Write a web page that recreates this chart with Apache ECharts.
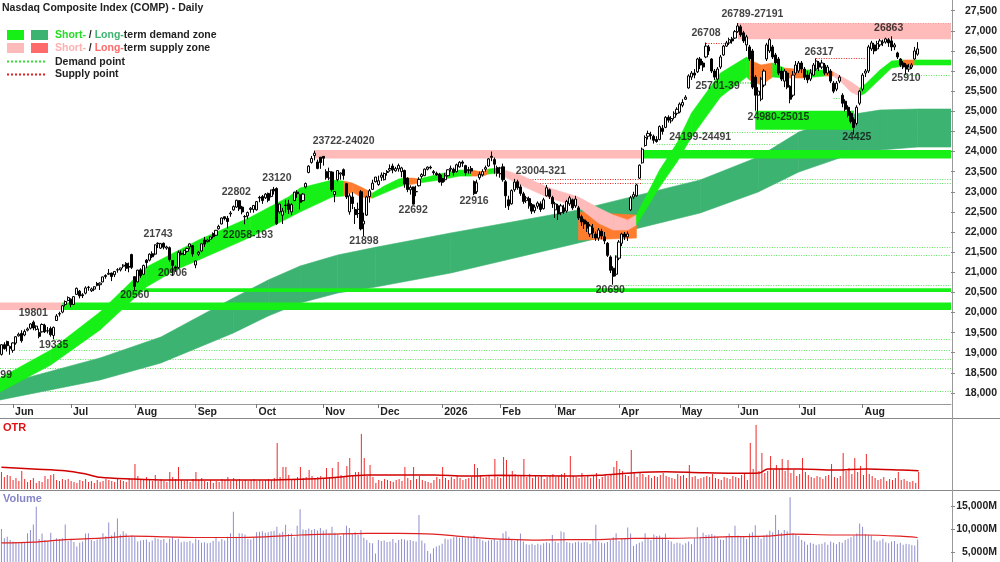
<!DOCTYPE html>
<html><head><meta charset="utf-8">
<script src="https://cdn.jsdelivr.net/npm/echarts@6/dist/echarts.min.js"></script>
<style>html,body{margin:0;padding:0;background:#fff}#c{width:1000px;height:562px}</style>
</head><body><div id="c"></div>
<script>
// ---------- DATA ----------
const candles = [ // [open, close, low, high]
[18960,19199,18930,19210],[19200,19100,19080,19260],[19280,19175,19030,19300],[19150,19113,18950,19180],
[19060,19243,19000,19260],[19240,19398,19200,19410],[19420,19460,19400,19500],[19480,19298,19250,19560],[19440,19530,19410,19580],
[19560,19591,19530,19630],[19610,19715,19580,19730],[19760,19615,19560,19800],[19580,19662,19550,19680],[19500,19407,19360,19600],
[19520,19701,19500,19730],[19680,19521,19490,19720],[19540,19546,19480,19640],[19600,19447,19400,19650],[19430,19631,19335,19650],
[19800,19913,19790,19960],[19960,19973,19900,20020],[20010,20168,19980,20180],[20200,20273,20150,20300],[20300,20370,20280,20400],
[20330,20202,20130,20350],[20200,20394,20190,20400],[20450,20601,20440,20620],[20530,20412,20350,20560],[20440,20418,20360,20480],
[20480,20611,20450,20650],[20620,20630,20540,20660],[20540,20586,20510,20620],[20580,20640,20530,20650],[20720,20677,20650,20760],
[20690,20730,20560,20750],[20760,20885,20750,20890],[20920,20896,20840,20950],[20950,20974,20930,21080],[20980,20893,20780,20990],
[20940,21020,20880,21030],[21060,21057,20990,21100],[21060,21108,21020,21110],[21150,21178,21100,21200],[21220,21098,21030,21250],
[21140,21130,21000,21240],[21440,21122,21080,21460],
[20890,20650,20560,20900],[20760,21053,20740,21060],[21060,20916,20860,21100],[20950,21169,20930,21190],[21300,21242,21100,21330],
[21300,21450,21270,21470],[21460,21385,21350,21520],[21450,21682,21420,21690],[21720,21713,21600,21743],[21600,21710,21580,21730],
[21720,21623,21570,21740],[21600,21630,21560,21660],[21610,21315,21260,21640],[21290,21172,20906,21300],[21130,21100,21010,21170],
[21120,21497,21090,21540],[21470,21449,21420,21540],[21440,21544,21420,21560],[21520,21590,21490,21610],[21630,21705,21570,21720],
[21660,21456,21390,21670],
[21180,21280,21100,21300],[21450,21498,21410,21530],[21530,21707,21500,21710],[21800,21700,21630,21880],[21760,21799,21740,21830],
[21820,21879,21760,21890],[21960,21886,21840,21990],[21920,22043,21900,22050],[22080,22141,22060,22180],[22200,22349,22190,22360],
[22380,22333,22290,22380],[22340,22261,22090,22400],[22450,22470,22380,22520],[22550,22631,22530,22660],[22620,22789,22600,22802],
[22780,22573,22520,22790],[22620,22498,22440,22650],[22380,22385,22193,22420],[22400,22484,22320,22510],[22560,22591,22480,22620],
[22560,22660,22480,22670],
[22550,22755,22530,22770],[22860,22845,22740,22900],[22880,22781,22700,22920],[22850,22942,22820,22970],[22960,22789,22740,22980],
[22880,23044,22860,23050],[23060,23025,22930,23120],[23080,22204,22180,23110],[22500,22695,22450,22710],[22420,22521,22200,22600],
[22660,22671,22480,22800],[22700,22562,22450,22800],[22500,22680,22420,22720],[22780,22991,22770,23000],[22990,22953,22850,23040],
[22920,22740,22560,22950],[22780,22942,22760,22970],[23120,23205,23080,23230],[23480,23637,23460,23660],[23730,23827,23700,23890],
[23900,23958,23780,24020],[23740,23581,23560,23800],[23860,23725,23570,23860],
[23880,23835,23650,23880],[23500,23349,23300,23560],[23340,23500,23290,23600],[23490,23054,23000,23510],[22930,23004,22740,23010],
[23300,23528,23260,23540],[23440,23468,23300,23480],[23550,23406,23300,23580],[23200,22870,22820,23220],[22500,22900,22430,22960],
[22870,22708,22570,22990],[22560,22432,22200,22620],[22460,22564,22350,22730],[23000,22078,22040,23040],[22200,22273,21898,22480],
[22420,22872,22400,22900],[22880,23026,22730,23070],[23060,23214,23050,23300],[23250,23366,23230,23370],
[23180,23275,23150,23400],[23360,23414,23270,23480],[23300,23454,23280,23480],[23480,23505,23400,23540],[23540,23578,23500,23680],
[23640,23546,23460,23700],[23520,23576,23500,23620],[23570,23654,23500,23700],[23500,23593,23360,23620],[23530,23195,23100,23550],
[23340,23057,22990,23360],[23050,23111,22930,23160],[23120,22693,22692,23130],[23000,23006,22890,23150],[23150,23307,23130,23360],
[23380,23428,23330,23460],[23400,23562,23390,23580],[23560,23613,23530,23630],[23610,23593,23560,23650],[23500,23474,23420,23540],
[23460,23419,23400,23500],[23440,23242,23230,23470],
[23330,23236,23150,23420],[23300,23395,23250,23470],[23400,23547,23380,23560],[23560,23584,23500,23650],[23560,23480,23400,23600],
[23500,23671,23480,23700],[23620,23733,23600,23760],[23740,23709,23620,23780],[23650,23471,23400,23670],[23550,23530,23450,23620],
[23580,23515,23450,23640],[23250,22954,22916,23280],[23000,23224,22950,23300],[23350,23436,23300,23500],[23420,23501,23380,23560],
[23560,23601,23500,23650],[23640,23817,23620,23840],[23880,23857,23760,24000],[23800,23685,23450,23850],[23600,23461,23380,23650],
[23450,23590,23350,23620],[23620,23300,23250,23700],[23250,22900,22600,23290],[22800,22650,22550,22900],[22700,23030,22680,23060],
[23050,23240,23000,23321],[23250,23100,23050,23300],[23120,22960,22900,23180],[22950,22760,22700,23000],[22780,22850,22720,22900],
[22830,22650,22580,22880],[22680,22520,22450,22720],[22530,22620,22470,22680],[22640,22720,22580,22760],[22700,22560,22500,22760],
[22580,22800,22560,22850],[22900,23100,22880,23170],[23050,22880,22820,23080],[22860,22700,22600,22900],
[22550,22700,22350,22750],[22650,22450,22300,22700],[22480,22650,22420,22700],[22600,22500,22450,22680],[22520,22760,22480,22800],
[22700,22850,22650,22900],[22800,22600,22550,22830],[22650,22820,22600,22900],[22600,22350,22300,22650],[22380,22250,22150,22430],
[22300,22200,22080,22330],[22240,22100,22000,22280],[21950,22150,21880,22200],[22100,21980,21850,22200],[21950,21850,21780,22010],
[21850,22050,21780,22100],[22020,21900,21820,22080],[21880,21780,21700,22000],[21720,21420,21380,21750],[21380,21050,20980,21420],
[21100,20900,20690,21150],[20950,21380,20900,21420],
[21350,21750,21300,21800],[21720,21950,21650,21980],[21950,21880,21800,22000],[21880,21950,21780,22010],[22550,22850,22520,22900],
[22870,22930,22820,23000],[22900,23170,22880,23200],[23340,23660,23320,23680],[23720,24060,23700,24100],[24150,24350,24120,24400],
[24380,24450,24300,24520],[24420,24400,24300,24491],[24380,24280,24199,24420],[24300,24250,24220,24380],[24300,24620,24280,24650],
[24580,24500,24420,24660],[24600,24850,24580,24880],[24850,24780,24720,24900],[24760,24820,24700,24880],[24850,24950,24800,25000],
[24950,25050,24900,25100],
[24980,25180,24950,25220],[25150,25220,25100,25300],[25300,25350,25280,25400],[25580,25880,25560,25920],[25850,25950,25780,26000],
[25950,25900,25820,26050],[25980,26300,25950,26330],[26300,26150,26050,26350],[26200,26100,26000,26250],[26350,26620,26320,26708],
[26600,26500,26400,26650],[26300,26000,25950,26320],[26000,25850,25780,26050],[25800,26050,25701,26100],[26100,26350,26050,26400],
[26400,26620,26380,26650],[26620,26700,26600,26750],[26700,26780,26650,26830],[26800,26750,26680,26850],[26820,26980,26800,27020],
[26980,27120,26950,27191],[27100,26900,26850,27150],[26950,26750,26700,27000],[26650,26850,26500,26900],[26600,26300,26250,26650],
[26500,25600,25550,26550],[25850,25400,25015,25900],[25400,25500,24980,25600],[25300,25800,25250,25850],[25650,26000,25600,26050],
[26300,26650,26250,26700],[26500,26780,26450,26814],[26600,26350,26300,26650],[26400,26200,26150,26450],[26300,25950,25900,26350],
[26000,25800,25750,26100],[25750,26000,25600,26050],[25950,25600,25550,26000],[25620,25300,25200,25650],[25400,25900,25350,26000],
[25950,26150,25900,26250],
[26000,26200,25950,26250],[26200,26050,25950,26250],[26050,25850,25780,26100],[25900,25780,25700,26000],[25800,25950,25750,26050],
[25900,26150,25880,26200],[26050,26250,26000,26317],[26200,26100,26000,26250],[26100,26200,26050,26280],[26150,25950,25900,26200],
[25950,26100,25900,26150],[26000,25750,25700,26050],[25700,25500,25450,25750],[25550,25700,25500,25750],[25750,25850,25700,25900],
[25400,25200,25100,25450],[25250,25050,25000,25300],[25100,24900,24850,25150],[24950,24750,24700,25000],[24800,24600,24425,24850],
[24700,25100,24650,25150],[25200,25500,25150,25530],
[25550,25900,25500,25950],[25950,26000,25850,26050],[26000,26600,25950,26650],[26550,26700,26500,26750],[26650,26500,26420,26700],
[26550,26680,26500,26750],[26650,26750,26600,26800],[26700,26720,26620,26780],[26720,26800,26680,26830],[26780,26700,26600,26820],
[26750,26600,26500,26863],[26600,26650,26520,26700],[26450,26350,26300,26480],[26300,26150,26100,26320],[26200,26100,26050,26250],
[26150,26050,25910,26200],[26050,26100,25980,26180],[26100,26150,26050,26200],[26300,26500,26280,26600],[26420,26550,26380,26720]
];

const volume = [ // millions of shares
10000,8000,8300,7600,7300,7100,6900,7200,7000,9060, 9800,11000,14850,7800,9000,7600,7400,9200,7300,8000,
7800,8000,11000,7400,7900,7200,6200,7000,7300,9000, 9100,7600,7400,7700,8000,9100,8400,11400,8600,9300,
12300,8800,9500,9000,8200,8600,8300,7300,7500,7600, 7700,7200,7500,8100,7900,7600,7800,7000,7900,8200,
7600,7900,7100,7300,7200,7400,6900,7900,7600,7000, 7100,6900,7000,7400,8200,7300,7800,7500,8300,9100,
13760,8300,9100,9000,8800,7900,7700,8100,9300,9400, 9500,9200,9300,9500,9600,10500,9100,9400,10900,8900,
9000,8200,10700,14270,9900,9800,10100,9800,10000,9700, 10200,9600,9900,9000,10500,9200,8800,8500,9000,10700,
10200,9100,9300,8700,9800,8100,7600,7000,6900,4700, 7600,7400,7500,7200,7300,7800,7000,7600,7800,7700,
7500,7600,7400,7300,13040,7500,6900,5200,4700,5800, 6200,6400,6800,7900,7700,7900,8200,8300,8100,8200,
8000,8300,8200,8600,8100,7800,7500,7200,7500,7600, 7800,7400,7700,9060,9500,8300,7700,7400,7600,9000,
7300,6700,6600,6800,6500,6800,6600,6900,7100,6900, 8700,7300,7000,9500,9300,7200,7000,6900,7100,7300,
7000,7200,7100,6800,7600,10900,7300,7000,6900,7200, 7600,8200,9100,7400,8000,7800,10300,9000,6300,6700,
7000,7300,9100,7800,7600,8800,8500,8600,8100,9000, 7600,7300,6800,7000,6900,6600,6900,7300,6700,8000,
10400,8300,9200,8700,8800,8900,8600,8300,7700,7600, 8500,9000,8400,10700,8600,8300,8500,7800,9000,9300,
10800,8300,7900,8600,8800,9600,9300,13040,9800,9200, 9800,9500,16900,9100,8800,8500,7600,7300,6600,7000,
6800,6500,6700,6800,7100,6600,7300,7000,6700,7200, 7000,7600,7900,8200,8600,9000,11200,10500,8900,8700,
8600,7600,7300,7500,7900,7100,6900,7300,7400,6800, 7000,6600,6800,6700,6500,6400,7700
];

const otr = [
17,12,14,13,9,11,8,18,10,7, 9,11,6,8,7,13,10,14,15,9, 8,10,9,10,8,7,6,9,8,10, 7,8,6,9,7,8,10,9,8,7,
10,9,8,7,11,10,25,13,9,10, 12,9,8,14,8,10,8,7,17,12, 10,22,9,8,9,7,10,17,9,11, 8,7,9,6,8,7,10,9,12,8,
11,9,10,8,9,8,9,10,8,9, 8,9,10,9,11,46,12,22,22,14, 10,9,12,22,11,12,19,13,11,12, 13,10,21,12,21,11,27,14,12,23,
31,14,17,17,55,31,13,24,12,6, 9,8,10,9,8,7,9,10,8,22, 11,9,22,10,13,9,8,7,6,9, 12,10,22,11,9,12,10,13,11,9,
10,11,12,25,21,14,11,12,13,10, 30,12,11,32,29,14,18,15,13,14, 30,12,15,11,13,12,14,10,12,13, 15,12,13,15,16,11,33,13,12,11,
16,12,14,11,13,16,10,12,14,13, 15,22,28,20,18,14,13,39,16,12, 16,15,12,14,11,13,12,14,16,13, 12,11,10,15,13,14,11,24,12,13,
10,11,12,13,12,15,11,10,9,12, 11,10,13,12,11,14,15,9,46,20, 64,18,36,16,18,33,19,24,20,30, 18,29,16,19,13,15,31,17,14,12,
11,13,12,10,13,14,25,12,11,13, 36,18,21,15,31,17,23,14,35,15, 13,11,9,10,12,8,10,9,11,17, 9,10,8,7,8,6,17
];

const volumeMA = [[0,6970],[11,7150],[22,7700],[34,8000],[45,8440],[57,8300],[68,8150],[80,8150],[91,8300],[103,8700],
[114,8900],[126,9060],[137,9060],[149,8900],[160,8300],[172,7780],[183,7600],[195,7700],[206,7700],[218,7970],[229,7970],
[241,8100],[252,8330],[264,8440],[273,8900],[287,8700],[298,8700],[310,8440],[316,8150]];

const otrMA = [[0,21.7],[11,20],[22,18.3],[29,15],[34,11.7],[45,10],[57,9],[91,9],[103,9.7],[114,11.3],[126,14],[137,14],
[149,14],[160,13],[172,13.7],[195,13],[206,13.7],[218,16.3],[229,17.3],[241,16.3],[252,15.7],[261,16],[264,20],[275,20],
[287,19],[298,20],[310,19],[316,18.3]];

// short-term band: [index, lower, upper, state 0=demand 1=transition 2=supply]
const shortBand = [
[0,18025,18373,0],[17,18695,19068,0],[34,19566,20013,0],[50,20634,21131,0],[60,21056,21504,0],[68,21305,21802,0],
[86,21877,22374,0],[99,22349,22871,0],[103,22498,23094,0],[114,22868,23290,0],[118,22893,23265,1],[121,22992,23216,1],
[124,22868,23116,1],[128,22843,22967,0],[132,22967,23141,0],[137,23117,23315,0],[139,23166,23340,1],[142,23191,23340,1],
[144,23216,23315,0],[151,23290,23440,0],[158,23390,23540,0],[162,23390,23540,1],[166,23390,23490,1],[168,23440,23565,0],
[171,23465,23590,2],[179,23166,23415,2],[189,22843,23092,2],[199,22620,22870,2],[206,22220,22597,2],[211,22050,22420,2],
[216,22050,22300,2],[219,22175,22423,0],[227,23118,23541,0],[233,23740,24212,0],[238,24362,24958,0],[248,25355,25952,0],
[257,25852,26349,0],[258,25778,26275,1],[262,25654,26151,1],[266,25852,26200,0],[270,25827,26076,1],[277,25827,26026,0],
[284,25877,26026,1],[287,25877,25977,2],[290,25703,25852,2],[293,25480,25728,2],[296,25380,25579,0],[298,25455,25678,0],
[303,25802,26026,0],[307,26076,26250,0],[311,26126,26275,1],[315,26151,26275,0],[327,26151,26275,0]
];

// long-term demand band: [index, lower, upper]
const longBand = [[0,17826,18199],[34,18323,18870],[55,18745,19391],[80,19491,20361],[92,19913,20807],[103,20236,21155],
[116,20485,21430],[129,20634,21620],[155,20982,21976],[199,21728,22548],[241,22473,23293],[261,22995,23864],[275,23491,24485],
[292,23913,24907],[303,24038,25032],[316,24112,25057],[327,24112,25057]];

const conflictBlock = [[199,21800,22500],[219,21850,22420]];

// horizontal zones: [fromIndex, toIndex, low, high, kind 0=demand 1=supply]
const zones = [[0,21,20060,20250,1],[21,327,20060,20250,0],[49,327,20510,20600,0],[108,221,23830,24040,1],
[221,327,23830,24040,0],[254,327,26789,27191,1],[260,294,24540,25015,0]];

// demand / supply points: [fromIndex, toIndex, price, kind 0=demand 1=supply]
const points = [[0,327,18040,0],[0,327,18620,0],[3,327,18843,0],[6,327,19067,0],[18,327,19335,0],[211,327,20690,0],
[212,327,21420,0],[214,327,21630,0],[178,221,23321,1],[221,327,23321,0],[178,221,23226,1],[221,327,23226,0],
[226,327,24199,0],[233,327,24491,0],[247,259,25701,0],[247,259,25739,0],[287,290,25330,0],[312,327,25910,0],
[108,221,24040,1],[243,251,26708,1],[254,327,27191,1],[265,327,26863,1],[281,298,26317,1]];

// swing labels: [text, index, price]
const labels = [['18599',0,18447],['19801',11,19988],['19335',18,19193],['20560',46,20435],['20906',59,20982],
['21743',54,21951],['22058-193',85,21926],['22802',81,22995],['23120',95,23343],['23722-24020',118,24262],
['21898',125,21777],['22692',142,22547],['22916',163,22771],['23004-321',186,23517],['20690',210,20560],
['24199-24491',241,24369],['25701-39',247,25629],['26708',243,26946],['26789-27191',259,27418],['24980-25015',268,24858],
['26317',282,26481],['24425',295,24369],['26863',306,27062],['25910',312,25820]];

const priceTicks = [18000,18500,19000,19500,20000,20500,21000,21500,22000,22500,23000,23500,24000,24500,25000,25500,26000,26500,27000,27500];
const volumeTicks = [5000,10000,15000];
const holidays = ['2025-06-19','2025-07-04','2025-09-01','2025-11-27','2025-12-25','2026-01-01','2026-01-19','2026-02-16','2026-04-03','2026-05-25','2026-06-19','2026-07-03'];
const monthNames = ['Jan','Feb','Mar','Apr','May','Jun','Jul','Aug','Sep','Oct','Nov','Dec'];

// ---------- BUILD ----------
function tradingDays(start, n) {
  const out = []; const d = new Date(start + 'T12:00:00Z');
  while (out.length < n) {
    const wd = d.getUTCDay(); const s = d.toISOString().slice(0, 10);
    if (wd !== 0 && wd !== 6 && holidays.indexOf(s) < 0) out.push(s);
    d.setUTCDate(d.getUTCDate() + 1);
  }
  return out;
}
const dates = tradingDays('2025-05-27', candles.length);
const PAD = 11;
const cats = dates.concat(Array.from({length: PAD}, (_, k) => 'pad' + k));
const N = cats.length;
const FONT = '"Liberation Sans", Arial, Helvetica, sans-serif';
const fmt = v => String(v).replace(/\B(?=(\d{3})+(?!\d))/g, ',');
const isMonthStart = (idx) => idx > 0 && idx < dates.length && dates[idx].slice(0, 7) !== dates[idx - 1].slice(0, 7);
const monthLabel = (val) => { if (!val || val.indexOf('pad') === 0) return ''; const m = +val.slice(5, 7); return m === 1 ? val.slice(0, 4) : monthNames[m - 1]; };

const C = { green: '#16f016', dark: '#3cb371', pink: '#ffbaba', orange: '#ff7b2e', dem: '#5be35b', sup: '#e02020' };
const bandColors = [C.green, C.orange, C.pink];

function xAt(api, i) {
  const bw = api.size([1, 0])[0];
  let x = api.coord([i, 0])[0];
  if (i <= 0) x -= bw / 2;
  if (i >= N - 1) x += bw / 2;
  return x;
}
function yAt(api, v) { return api.coord([0, v])[1]; }

function bandSeries(arr, colorOf, z) {
  return {
    type: 'custom', xAxisIndex: 0, yAxisIndex: 0, z: z, silent: true, clip: true,
    data: arr.map(p => [p[0], p[1], p[2]]),
    renderItem: function (params, api) {
      const k = params.dataIndex;
      if (k >= arr.length - 1) return null;
      const a = arr[k], b = arr[k + 1];
      const xa = xAt(api, a[0]), xb = xAt(api, b[0]);
      const col = colorOf(a);
      return { type: 'polygon', shape: { points: [[xa, yAt(api, a[1])], [xb, yAt(api, b[1])], [xb, yAt(api, b[2])], [xa, yAt(api, a[2])]] },
        style: { fill: col, stroke: col, lineWidth: 0.6 } };
    }
  };
}

const series = [
  { type: 'custom', name: 'points', xAxisIndex: 0, yAxisIndex: 0, z: 1, silent: true, clip: true,
    data: points.map(p => [p[0], p[2]]),
    renderItem: function (params, api) {
      const p = points[params.dataIndex];
      const y = Math.round(yAt(api, p[2])) + 0.5;
      return { type: 'line', shape: { x1: xAt(api, p[0]), y1: y, x2: xAt(api, p[1]), y2: y },
        style: { stroke: p[3] ? C.sup : C.dem, lineWidth: 1, lineDash: [1, 1.5] } };
    } },
  bandSeries(longBand, () => C.dark, 2),
  { type: 'custom', name: 'zones', xAxisIndex: 0, yAxisIndex: 0, z: 3, silent: true, clip: true,
    data: zones.map(z => [z[0], z[2]]),
    renderItem: function (params, api) {
      const z = zones[params.dataIndex];
      const x0 = xAt(api, z[0]), x1 = xAt(api, z[1]);
      const y0 = yAt(api, z[3]), y1 = yAt(api, z[2]);
      return { type: 'rect', shape: { x: x0, y: y0, width: x1 - x0, height: y1 - y0 }, style: { fill: z[4] ? C.pink : C.green } };
    } },
  bandSeries(conflictBlock, () => C.orange, 4),
  bandSeries(shortBand, a => bandColors[a[3]], 5),
  { type: 'candlestick', xAxisIndex: 0, yAxisIndex: 0, z: 6, silent: true, data: candles, barWidth: 2.6,
    itemStyle: { color: '#ffffff', color0: '#000000', borderColor: '#000000', borderColor0: '#000000', borderWidth: 1 } },
  { type: 'scatter', xAxisIndex: 0, yAxisIndex: 0, z: 8, silent: true, clip: false, symbolSize: 1,
    itemStyle: { color: 'rgba(0,0,0,0)' },
    label: { show: true, position: 'inside', color: '#111', fontWeight: 'bold', fontSize: 10.5, fontFamily: FONT },
    data: labels.map((l, k) => ({ value: [l[1], l[2]], label: { formatter: l[0], offset: k === 0 ? [-4, 0] : [0, 0] } })) },
  { type: 'bar', xAxisIndex: 1, yAxisIndex: 1, silent: true, data: otr, barWidth: 1, itemStyle: { color: '#ee2a2a' } },
  { type: 'line', xAxisIndex: 1, yAxisIndex: 1, silent: true, data: otrMA, smooth: 0.3, symbol: 'none',
    lineStyle: { color: '#d00000', width: 1.5 }, z: 4 },
  { type: 'bar', xAxisIndex: 2, yAxisIndex: 2, silent: true, data: volume, barWidth: 1, itemStyle: { color: '#8e8ecf' } },
  { type: 'line', xAxisIndex: 2, yAxisIndex: 2, silent: true, data: volumeMA, smooth: 0.3, symbol: 'none',
    lineStyle: { color: '#e02020', width: 1.2 }, z: 4 }
];

const axisLabelStyle = { fontWeight: 'bold', fontSize: 10.5, fontFamily: FONT, color: '#222' };

const option = {
  animation: false,
  backgroundColor: '#ffffff',
  grid: [
    { left: 0, top: 0, width: 952, height: 404 },
    { left: 0, top: 419, width: 952, height: 70 },
    { left: 0, top: 491, width: 952, height: 71 }
  ],
  xAxis: [
    { gridIndex: 0, type: 'category', data: cats, boundaryGap: true,
      axisLine: { show: true, lineStyle: { color: '#999', width: 1 } },
      axisTick: { show: true, length: 4, alignWithLabel: true, interval: (i) => isMonthStart(i), lineStyle: { color: '#777' } },
      axisLabel: Object.assign({ interval: (i) => isMonthStart(i), formatter: monthLabel, align: 'left', margin: 3, padding: [0, 0, 0, 2] }, axisLabelStyle),
      splitLine: { show: false } },
    { gridIndex: 1, type: 'category', data: cats, show: false },
    { gridIndex: 2, type: 'category', data: cats, show: false }
  ],
  yAxis: [
    { gridIndex: 0, type: 'value', position: 'right', min: 17726, max: 27766, splitLine: { show: false },
      axisLine: { show: false },
      axisTick: { show: true, length: 4, customValues: priceTicks, lineStyle: { color: '#888' } },
      axisLabel: Object.assign({ customValues: priceTicks, formatter: v => fmt(v), align: 'right', margin: 46 }, axisLabelStyle) },
    { gridIndex: 1, type: 'value', min: 0, max: 70, show: false },
    { gridIndex: 2, type: 'value', position: 'right', min: 2826, max: 18261, splitLine: { show: false },
      axisLine: { show: false },
      axisTick: { show: true, length: 4, customValues: volumeTicks, lineStyle: { color: '#888' } },
      axisLabel: Object.assign({ customValues: volumeTicks, formatter: v => fmt(v) + 'M', align: 'right', margin: 46 }, axisLabelStyle) }
  ],
  graphic: [
    { type: 'line', silent: true, shape: { x1: 0, y1: 418.5, x2: 1000, y2: 418.5 }, style: { stroke: '#888', lineWidth: 1 } },
    { type: 'line', silent: true, shape: { x1: 0, y1: 490.5, x2: 1000, y2: 490.5 }, style: { stroke: '#888', lineWidth: 1 } },
    { type: 'line', silent: true, shape: { x1: 952.5, y1: 0, x2: 952.5, y2: 562 }, style: { stroke: '#999', lineWidth: 1 } },
    { type: 'text', silent: true, x: 2, y: 8, style: { text: 'Nasdaq Composite Index (COMP) - Daily', font: 'bold 10.5px ' + FONT, fill: '#222', verticalAlign: 'middle' } },
    { type: 'rect', silent: true, shape: { x: 7, y: 30, width: 17, height: 10 }, style: { fill: C.green } },
    { type: 'rect', silent: true, shape: { x: 31, y: 30, width: 17, height: 10 }, style: { fill: C.dark } },
    { type: 'rect', silent: true, shape: { x: 7, y: 43, width: 17, height: 10 }, style: { fill: C.pink } },
    { type: 'rect', silent: true, shape: { x: 31, y: 43, width: 17, height: 10 }, style: { fill: '#ff6b6b' } },
    { type: 'line', silent: true, shape: { x1: 7, y1: 61.5, x2: 47, y2: 61.5 }, style: { stroke: '#33dd33', lineWidth: 2, lineDash: [2, 2] } },
    { type: 'line', silent: true, shape: { x1: 7, y1: 74.5, x2: 47, y2: 74.5 }, style: { stroke: '#dd2222', lineWidth: 2, lineDash: [2, 2] } },
    { type: 'text', silent: true, x: 55, y: 35, style: { text: '{a|Short-}{t| / }{b|Long-}{t|term demand zone}', verticalAlign: 'middle',
      rich: { a: { fill: '#22dd22', font: 'bold 10.5px ' + FONT }, b: { fill: '#3cb371', font: 'bold 10.5px ' + FONT }, t: { fill: '#222', font: 'bold 10.5px ' + FONT } } } },
    { type: 'text', silent: true, x: 55, y: 48, style: { text: '{a|Short-}{t| / }{b|Long-}{t|term supply zone}', verticalAlign: 'middle',
      rich: { a: { fill: '#ffb0b0', font: 'bold 10.5px ' + FONT }, b: { fill: '#ff6a6a', font: 'bold 10.5px ' + FONT }, t: { fill: '#222', font: 'bold 10.5px ' + FONT } } } },
    { type: 'text', silent: true, x: 55, y: 62, style: { text: 'Demand point', font: 'bold 10.5px ' + FONT, fill: '#222', verticalAlign: 'middle' } },
    { type: 'text', silent: true, x: 55, y: 74.5, style: { text: 'Supply point', font: 'bold 10.5px ' + FONT, fill: '#222', verticalAlign: 'middle' } },
    { type: 'text', silent: true, x: 3, y: 428, style: { text: 'OTR', font: 'bold 11px ' + FONT, fill: '#e01010', verticalAlign: 'middle' } },
    { type: 'text', silent: true, x: 3, y: 499, style: { text: 'Volume', font: 'bold 11px ' + FONT, fill: '#8585c8', verticalAlign: 'middle' } }
  ],
  series: series
};

const chart = echarts.init(document.getElementById('c'), null, { renderer: 'canvas' });
chart.setOption(option);
</script>
</body></html>
